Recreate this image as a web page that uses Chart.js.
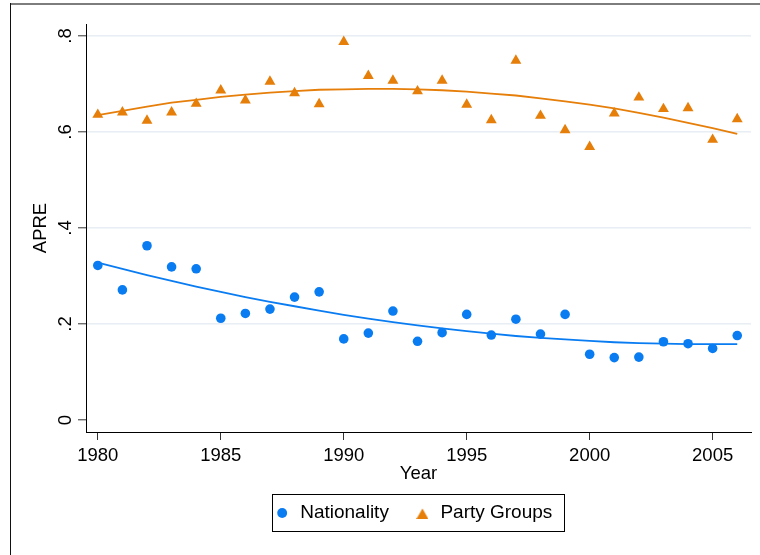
<!DOCTYPE html>
<html>
<head>
<meta charset="utf-8">
<title>APRE by year</title>
<script src="https://cdn.jsdelivr.net/npm/chart.js@4.4.1/dist/chart.umd.min.js"></script>
<style>
  html, body { margin: 0; padding: 0; background: #fff; }
  #wrap { width: 760px; height: 555px; }
</style>
</head>
<body>
<div id="wrap"><canvas id="c" width="760" height="555"></canvas></div>
<script>
// Yearly APRE scores
const years = [1980, 1981, 1982, 1983, 1984, 1985, 1986, 1987, 1988, 1989,
               1990, 1991, 1992, 1993, 1994, 1995, 1996, 1997, 1998, 1999,
               2000, 2001, 2002, 2003, 2004, 2005, 2006];

const nationality = [0.322, 0.271, 0.363, 0.319, 0.315, 0.212, 0.222, 0.231, 0.256, 0.267,
                     0.169, 0.181, 0.227, 0.164, 0.182, 0.220, 0.177, 0.210, 0.179, 0.220,
                     0.137, 0.130, 0.131, 0.163, 0.159, 0.149, 0.176];

const partyGroups = [0.636, 0.641, 0.624, 0.641, 0.659, 0.687, 0.666, 0.705, 0.681, 0.658,
                     0.788, 0.717, 0.707, 0.685, 0.707, 0.657, 0.625, 0.749, 0.634, 0.604,
                     0.569, 0.639, 0.672, 0.648, 0.650, 0.584, 0.627];

// Quadratic trend curves, one value per year
const nationalityFit = [0.328, 0.315, 0.302, 0.290, 0.278, 0.267, 0.256, 0.246, 0.237, 0.228,
                        0.219, 0.211, 0.204, 0.197, 0.191, 0.185, 0.180, 0.175, 0.171, 0.168,
                        0.165, 0.162, 0.160, 0.159, 0.158, 0.158, 0.158];

const partyGroupsFit = [0.635, 0.644, 0.653, 0.661, 0.667, 0.673, 0.678, 0.682, 0.685, 0.688,
                        0.689, 0.690, 0.690, 0.689, 0.687, 0.684, 0.680, 0.676, 0.670, 0.664,
                        0.657, 0.649, 0.640, 0.630, 0.619, 0.608, 0.596];

const xTicks = [1980, 1985, 1990, 1995, 2000, 2005];
const yTicks = [0, 0.2, 0.4, 0.6, 0.8];
const yTickLabels = ['0', '.2', '.4', '.6', '.8'];

const FONT = "'Liberation Sans', Arial, Helvetica, sans-serif";
const BLUE = '#0A7CF2';
const ORANGE = '#E67E0A';

const pts = (vals) => years.map((x, i) => ({ x: x, y: vals[i] }));

// Larger triangle glyph for the legend key
const triangleGlyph = (() => {
  const cv = document.createElement('canvas');
  cv.width = 12; cv.height = 12;
  const g = cv.getContext('2d');
  g.fillStyle = ORANGE;
  g.beginPath();
  g.moveTo(6, 1.5);
  g.lineTo(12, 12);
  g.lineTo(0, 12);
  g.closePath();
  g.fill();
  return cv;
})();

// Outer frame lines (top rule and left rule)
const framePlugin = {
  id: 'frame',
  beforeDraw(chart) {
    const ctx = chart.ctx;
    ctx.save();
    ctx.fillStyle = '#fff';
    ctx.fillRect(0, 0, chart.width, chart.height);
    ctx.fillStyle = '#7d7d7d';
    ctx.fillRect(10, 3, chart.width - 10, 2);
    ctx.fillStyle = '#111';
    ctx.fillRect(10, 3, 1, chart.height - 3);
    ctx.restore();
  }
};

// Nudge the legend row so it sits centred under the plot's labels
const legendShiftPlugin = {
  id: 'legendShift',
  afterLayout(chart) {
    if (chart.legend) {
      chart.legend.left -= 5.5;
      chart.legend.right -= 5.5;
    }
  }
};

// Vertical y tick labels, placed through the y scale
const yLabelPlugin = {
  id: 'yLabels',
  afterDraw(chart) {
    const ctx = chart.ctx;
    const ys = chart.scales.y;
    ctx.save();
    ctx.font = '18.5px ' + FONT;
    ctx.fillStyle = '#000';
    ctx.textAlign = 'center';
    ctx.textBaseline = 'alphabetic';
    yTicks.forEach((v, i) => {
      const py = ys.getPixelForValue(v);
      ctx.save();
      ctx.translate(70.5, py);
      ctx.rotate(-Math.PI / 2);
      ctx.fillText(yTickLabels[i], 0, 0);
      ctx.restore();
    });
    ctx.restore();
  }
};

// Box around the legend entries
const legendFramePlugin = {
  id: 'legendFrame',
  afterDraw(chart) {
    const hb = chart.legend && chart.legend.legendHitBoxes;
    if (!hb || !hb.length) return;
    const last = hb[hb.length - 1];
    const left = Math.round(hb[0].left - 1.5) + 0.5;
    const right = Math.round(last.left + last.width + 11.5) + 0.5;
    const cy = hb[0].top + hb[0].height / 2;
    const top = Math.round(cy - 19) + 0.5;
    const bottom = Math.round(cy + 17.5) + 0.5;
    const ctx = chart.ctx;
    ctx.save();
    ctx.strokeStyle = '#000';
    ctx.lineWidth = 1;
    ctx.strokeRect(left, top, right - left, bottom - top);
    ctx.restore();
  }
};

new Chart(document.getElementById('c'), {
  type: 'scatter',
  data: {
    datasets: [
      {
        label: 'Nationality',
        data: pts(nationality),
        pointStyle: 'circle',
        pointRadius: 4.8,
        backgroundColor: BLUE,
        borderColor: BLUE,
        borderWidth: 0,
        order: 2
      },
      {
        label: 'Party Groups',
        data: pts(partyGroups),
        pointStyle: 'triangle',
        pointRadius: 6.3,
        backgroundColor: ORANGE,
        borderColor: ORANGE,
        borderWidth: 0,
        order: 2
      },
      {
        label: 'Nationality fit',
        data: pts(nationalityFit),
        showLine: true,
        pointRadius: 0,
        borderColor: BLUE,
        borderWidth: 1.8,
        fill: false,
        order: 1
      },
      {
        label: 'Party Groups fit',
        data: pts(partyGroupsFit),
        showLine: true,
        pointRadius: 0,
        borderColor: ORANGE,
        borderWidth: 1.8,
        fill: false,
        order: 1
      }
    ]
  },
  options: {
    responsive: false,
    animation: false,
    devicePixelRatio: 1,
    layout: { padding: { top: 24, right: 9, bottom: 22.5, left: 0 } },
    scales: {
      x: {
        type: 'linear',
        min: 1979.52,
        max: 2006.56,
        afterBuildTicks: (s) => { s.ticks = xTicks.map(v => ({ value: v })); },
        afterFit: (s) => { s.height = 46.5; },
        grid: { drawOnChartArea: false, drawTicks: true, tickLength: 8, tickColor: '#333', tickWidth: 1 },
        border: { display: true, color: '#000', width: 1 },
        ticks: {
          font: { family: FONT, size: 18.5 },
          color: '#000',
          padding: 5,
          maxRotation: 0,
          autoSkip: false,
          callback: (v) => String(v)
        },
        title: {
          display: true,
          text: 'Year',
          font: { family: FONT, size: 18.5 },
          color: '#000',
          padding: { top: 0, bottom: -7 }
        }
      },
      y: {
        type: 'linear',
        min: -0.025,
        max: 0.825,
        afterBuildTicks: (s) => { s.ticks = yTicks.map(v => ({ value: v })); },
        afterFit: (s) => { s.width = 86; },
        grid: {
          color: (c) => (c.tick && c.tick.value === 0) ? 'rgba(0,0,0,0)' : '#E8EEF4',
          lineWidth: 1.6,
          drawTicks: true,
          tickLength: 8,
          tickColor: '#333',
          tickWidth: 1
        },
        border: { display: true, color: '#000', width: 1 },
        ticks: { display: false },
        title: {
          display: true,
          text: 'APRE',
          font: { family: FONT, size: 18.5 },
          color: '#000',
          padding: { top: 30, bottom: 0 }
        }
      }
    },
    plugins: {
      legend: {
        position: 'bottom',
        fullSize: false,
        labels: {
          usePointStyle: true,
          boxWidth: 17,
          boxHeight: 7,
          padding: 25,
          font: { family: FONT, size: 19 },
          color: '#000',
          filter: (item) => item.datasetIndex < 2,
          generateLabels: (chart) => {
            const items = Chart.defaults.plugins.legend.labels.generateLabels(chart);
            items.forEach(it => { if (it.pointStyle === 'triangle') it.pointStyle = triangleGlyph; });
            return items;
          }
        }
      },
      tooltip: { enabled: false }
    }
  },
  plugins: [framePlugin, legendShiftPlugin, yLabelPlugin, legendFramePlugin]
});
</script>
</body>
</html>
